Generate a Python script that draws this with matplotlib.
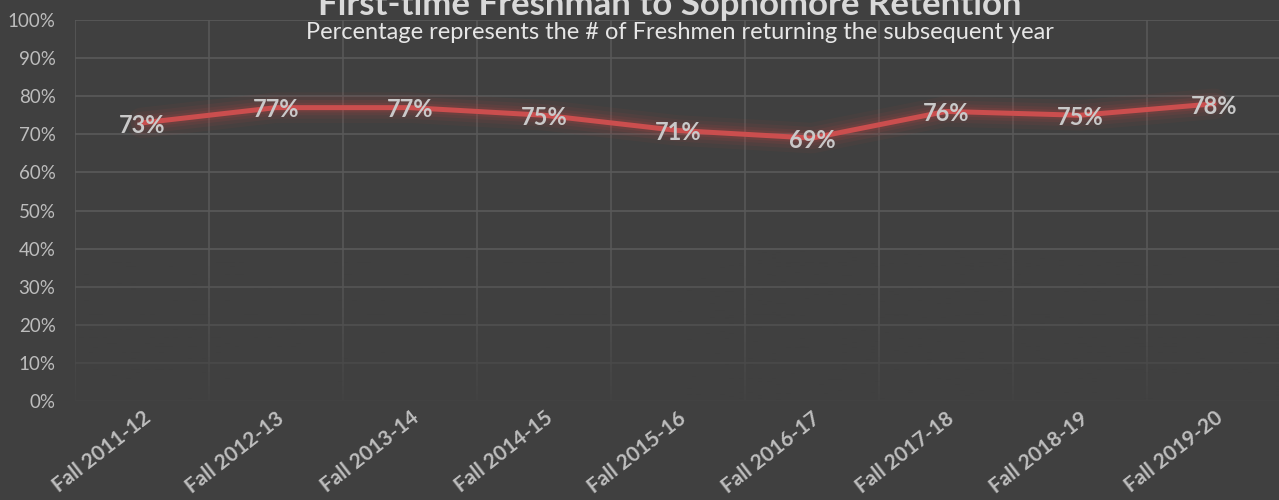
import numpy as np
import matplotlib.pyplot as plt
from matplotlib.colors import to_rgb

# retention by cohort
years = ["Fall 2011-12", "Fall 2012-13", "Fall 2013-14", "Fall 2014-15", "Fall 2015-16",
         "Fall 2016-17", "Fall 2017-18", "Fall 2018-19", "Fall 2019-20"]
retention = [73, 77, 77, 75, 71, 69, 76, 75, 78]
yticks = [0, 10, 20, 30, 40, 50, 60, 70, 80, 90, 100]

plt.rcParams['font.family'] = ['Lato', 'DejaVu Sans']

bg = "#404040"
fig = plt.figure(figsize=(12.79, 5), dpi=100, facecolor=bg)
ax = fig.add_axes([75 / 1279, 1 - 401 / 500, 1206 / 1279, 381 / 500], facecolor=bg)

x = np.arange(len(years))

# soft glow under the line
for lw, a in [(22, 0.05), (16, 0.07), (11, 0.09), (7, 0.12)]:
    ax.plot(x, retention, color="#d9403f", lw=lw, alpha=a, solid_capstyle="round", zorder=2)
ax.plot(x, retention, color="#cb4e4e", lw=3.6, solid_capstyle="round", zorder=3)

for xi, v in zip(x, retention):
    ax.text(xi, v - 0.6, f"{v}%", ha="center", va="center", fontsize=17, fontweight="bold",
            color="#c9c9c9", zorder=4)

ax.set_xlim(-0.5, len(years) - 0.5)
ax.set_ylim(0, 100)
ax.set_yticks(yticks)
ax.set_yticklabels([f"{t}%" for t in yticks], fontsize=13.5, color="#bdbdbd")
ax.set_xticks(x)
ax.set_xticklabels(years, rotation=38, ha="right", rotation_mode="anchor",
                   fontsize=15, fontweight="bold", color="#bdbdbd")
ax.set_xticks(np.arange(-0.5, len(years)), minor=True)
ax.tick_params(axis="both", which="both", length=0)
ax.tick_params(axis="x", pad=5)
ax.tick_params(axis="y", pad=14)
ax.grid(axis="y", which="major", color="#5a5a5a", lw=1.2)
ax.grid(axis="x", which="minor", color="#575757", lw=1.2)
ax.set_axisbelow(True)
for s in ax.spines.values():
    s.set_visible(False)

# gridlines fade out toward the bottom
fade = np.zeros((100, 1, 4))
fade[..., :3] = to_rgb(bg)
fade[:, 0, 3] = np.linspace(0.92, 0.0, 100) ** 1.3
ax.imshow(fade, extent=(-0.5, len(years) - 0.5, 0, 40), origin="lower", aspect="auto", zorder=1.5)
ax.set_xlim(-0.5, len(years) - 0.5)
ax.set_ylim(0, 100)

fig.text(0.524, 0.99, "First-time Freshman to Sophomore Retention", ha="center", va="center",
         fontsize=25, fontweight="bold", color="#d9d9d9")
fig.text(0.532, 0.935, "Percentage represents the # of Freshmen returning the subsequent year",
         ha="center", va="center", fontsize=17, color="#e6e6e6")

fig.savefig("out.png", dpi=100, facecolor=bg)
